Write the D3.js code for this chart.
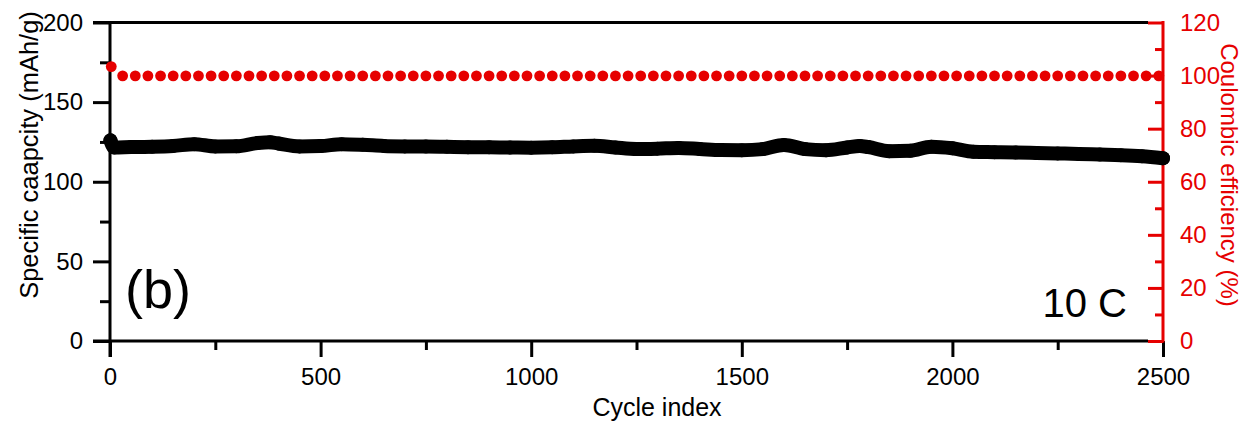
<!DOCTYPE html>
<html>
<head>
<meta charset="utf-8">
<script src="https://cdn.jsdelivr.net/npm/d3@7"></script>
<style>
  body { margin: 0; background: #fff; }
  svg { display: block; font-family: "Liberation Sans", Arial, sans-serif; }
</style>
</head>
<body>
<svg id="chart" width="1255" height="421"></svg>
<script>
const width = 1255;
const height = 421;
const red = "#e60000";

// capacity (mAh/g)
const capCycles = [1, 10, 50, 100, 150, 200, 250, 300, 350, 380, 400, 450, 500, 550, 600, 650,
  700, 750, 800, 850, 900, 950, 1000, 1050, 1100, 1150, 1200, 1250, 1300, 1350, 1400, 1450,
  1500, 1550, 1600, 1650, 1700, 1750, 1780, 1800, 1850, 1900, 1950, 2000, 2050, 2100, 2150,
  2200, 2250, 2300, 2350, 2400, 2450, 2500];
const capValues = [126, 121.5, 121.8, 122.0, 122.5, 123.6, 122.2, 122.3, 124.3, 124.8, 124.0, 122.2,
  122.4, 123.6, 123.2, 122.5, 122.2, 122.1, 121.9, 121.7, 121.6, 121.5, 121.4, 121.6, 122.2,
  122.6, 121.5, 120.6, 120.8, 121.2, 120.6, 119.9, 119.8, 120.5, 123.1, 120.5, 119.8, 121.5,
  122.4, 121.8, 119.2, 119.5, 122.0, 121.0, 118.8, 118.6, 118.4, 118.1, 117.8, 117.5, 117.1,
  116.7, 116.0, 114.8];

// coulombic efficiency (%) red markers
const ceCycles = [3, 30, 60, 90, 120, 150, 180, 210, 240, 270, 300, 330, 360, 390, 420, 450, 480,
  510, 540, 570, 600, 630, 660, 690, 720, 750, 780, 810, 840, 870, 900, 930, 960, 990, 1020,
  1050, 1080, 1110, 1140, 1170, 1200, 1230, 1260, 1290, 1320, 1350, 1380, 1410, 1440, 1470,
  1500, 1530, 1560, 1590, 1620, 1650, 1680, 1710, 1740, 1770, 1800, 1830, 1860, 1890, 1920,
  1950, 1980, 2010, 2040, 2070, 2100, 2130, 2160, 2190, 2220, 2250, 2280, 2310, 2340, 2370,
  2400, 2430, 2460, 2490];
const ceValues = [103.4, 99.9, 99.9, 99.9, 99.9, 99.9, 99.9, 99.9, 99.9, 99.9, 99.9, 99.9, 99.9,
  99.9, 99.9, 99.9, 99.9, 99.9, 99.9, 99.9, 99.9, 99.9, 99.9, 99.9, 99.9, 99.9, 99.9, 99.9,
  99.9, 99.9, 99.9, 99.9, 99.9, 99.9, 99.9, 99.9, 99.9, 99.9, 99.9, 99.9, 99.9, 99.9, 99.9,
  99.9, 99.9, 99.9, 99.9, 99.9, 99.9, 99.9, 99.9, 99.9, 99.9, 99.9, 99.9, 99.9, 99.9, 99.9,
  99.9, 99.9, 99.9, 99.9, 99.9, 99.9, 99.9, 99.9, 99.9, 99.9, 99.9, 99.9, 99.9, 99.9, 99.9,
  99.9, 99.9, 99.9, 99.9, 99.9, 99.9, 99.9, 99.9, 99.9, 99.9, 99.9];

const xTicks = [0, 500, 1000, 1500, 2000, 2500];
const xMinor = [250, 750, 1250, 1750, 2250];
const yLeftTicks = [0, 50, 100, 150, 200];
const yLeftMinor = [25, 75, 125, 175];
const yRightTicks = [0, 20, 40, 60, 80, 100, 120];
const yRightMinor = [10, 30, 50, 70, 90, 110];

const plot = { left: 110, right: 1163, top: 22.5, bottom: 341 };

const svg = d3.select("#chart");

const x = d3.scaleLinear().domain([0, 2500]).range([plot.left, plot.right]);
const yL = d3.scaleLinear().domain([0, 200]).range([plot.bottom, plot.top]);
const yR = d3.scaleLinear().domain([0, 120]).range([plot.bottom, plot.top]);

// --- axes ---
function styleAxis(g, color, size) {
  g.select(".domain").remove();
  g.selectAll(".tick line").attr("stroke", color).attr("stroke-width", 3);
  g.selectAll(".tick text").attr("fill", color).attr("font-size", size)
    .attr("font-family", "Liberation Sans, Arial, sans-serif");
}

svg.append("g")
  .attr("transform", `translate(0,${plot.bottom})`)
  .call(d3.axisBottom(x).tickValues(xTicks).tickSize(16).tickPadding(11).tickFormat(d3.format("d")))
  .call(g => styleAxis(g, "#000", 24));

svg.append("g")
  .attr("transform", `translate(0,${plot.bottom})`)
  .call(d3.axisBottom(x).tickValues(xMinor).tickSize(9).tickFormat(""))
  .call(g => styleAxis(g, "#000", 24));

svg.append("g")
  .attr("transform", `translate(${plot.left},0)`)
  .call(d3.axisLeft(yL).tickValues(yLeftTicks).tickSize(17).tickPadding(10))
  .call(g => styleAxis(g, "#000", 24));

svg.append("g")
  .attr("transform", `translate(${plot.left},0)`)
  .call(d3.axisLeft(yL).tickValues(yLeftMinor).tickSize(10).tickFormat(""))
  .call(g => styleAxis(g, "#000", 24));

// right axis: ticks point inward, labels outside
svg.append("g")
  .attr("transform", `translate(${plot.right},0)`)
  .call(d3.axisLeft(yR).tickValues(yRightTicks).tickSize(15).tickFormat(""))
  .call(g => styleAxis(g, red, 24));

svg.append("g")
  .attr("transform", `translate(${plot.right},0)`)
  .call(d3.axisLeft(yR).tickValues(yRightMinor).tickSize(8).tickFormat(""))
  .call(g => styleAxis(g, red, 24));

svg.append("g")
  .attr("transform", `translate(${plot.right},0)`)
  .call(d3.axisRight(yR).tickValues(yRightTicks).tickSize(0).tickPadding(17))
  .call(g => styleAxis(g, red, 24));

// frame
svg.append("line").attr("x1", plot.left - 17).attr("x2", plot.right - 15)
  .attr("y1", plot.top).attr("y2", plot.top)
  .attr("stroke", "#000").attr("stroke-width", 3);
svg.append("line").attr("x1", plot.left - 17).attr("x2", plot.right - 15)
  .attr("y1", plot.bottom).attr("y2", plot.bottom)
  .attr("stroke", "#000").attr("stroke-width", 3);
svg.append("line").attr("x1", plot.left).attr("x2", plot.left)
  .attr("y1", plot.top - 1.5).attr("y2", plot.bottom + 16)
  .attr("stroke", "#000").attr("stroke-width", 3);
svg.append("line").attr("x1", plot.right).attr("x2", plot.right)
  .attr("y1", plot.top - 1.5).attr("y2", plot.bottom + 1.5)
  .attr("stroke", red).attr("stroke-width", 3);

// --- data ---
const capData = capCycles.map((c, i) => ({ c, v: capValues[i] }));
const ceData = ceCycles.map((c, i) => ({ c, v: ceValues[i] }));

svg.append("path")
  .datum(capData)
  .attr("fill", "none")
  .attr("stroke", "#000")
  .attr("stroke-width", 14)
  .attr("stroke-linejoin", "round")
  .attr("stroke-linecap", "round")
  .attr("d", d3.line().x(d => x(d.c)).y(d => yL(d.v)).curve(d3.curveMonotoneX));

svg.append("g")
  .selectAll("circle")
  .data(capData)
  .join("circle")
  .attr("cx", d => x(d.c))
  .attr("cy", d => yL(d.v))
  .attr("r", 7)
  .attr("fill", "#000");

svg.append("g")
  .selectAll("circle")
  .data(ceData)
  .join("circle")
  .attr("cx", d => x(d.c))
  .attr("cy", d => yR(d.v))
  .attr("r", 5.4)
  .attr("fill", red);

// --- labels ---
svg.append("text")
  .attr("x", 657).attr("y", 416)
  .attr("text-anchor", "middle")
  .attr("font-size", 25)
  .text("Cycle index");

svg.append("text")
  .attr("transform", "translate(38,155) rotate(-90)")
  .attr("text-anchor", "middle")
  .attr("font-size", 25.5)
  .text("Specific caapcity (mAh/g)");

svg.append("text")
  .attr("transform", "translate(1221,175) rotate(90)")
  .attr("text-anchor", "middle")
  .attr("font-size", 24)
  .attr("fill", red)
  .text("Coulombic efficiency (%)");

svg.append("text")
  .attr("x", 125).attr("y", 308)
  .attr("font-size", 54)
  .text("(b)");

svg.append("text")
  .attr("x", 1127).attr("y", 317)
  .attr("text-anchor", "end")
  .attr("font-size", 40)
  .text("10 C");
</script>
</body>
</html>
